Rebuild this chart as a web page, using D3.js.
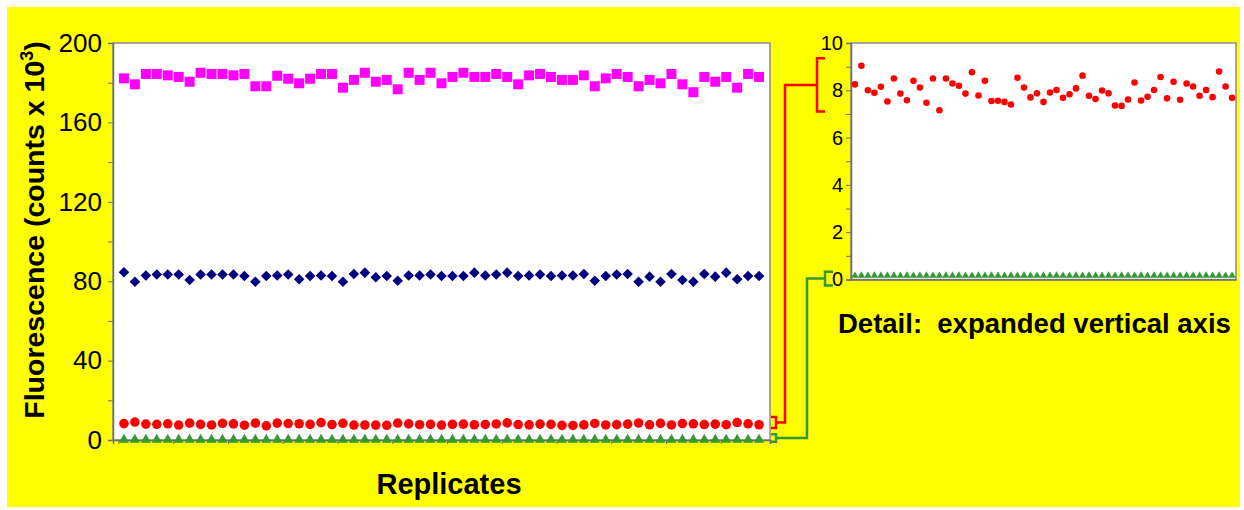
<!DOCTYPE html>
<html>
<head>
<meta charset="utf-8">
<script src="https://cdn.jsdelivr.net/npm/d3@7"></script>
<style>
  body { margin: 0; background: #fff; }
  svg { display: block; font-family: "Liberation Sans", Arial, sans-serif; }
</style>
</head>
<body>
<div id="chart"></div>
<script>
// replicate readings, thousands of counts
const magentaValues = [182.2, 179.2, 184.4, 184.4, 183.7, 182.9, 180.5, 185.0, 184.4, 184.4,
  183.7, 184.4, 178.2, 178.2, 183.5, 182.0, 179.7, 182.0, 184.4, 184.4,
  177.5, 181.4, 185.0, 180.5, 181.4, 176.7, 185.0, 181.4, 185.0, 179.7,
  182.9, 185.0, 182.9, 182.9, 184.4, 182.9, 179.2, 183.7, 184.4, 182.9,
  181.4, 181.4, 183.7, 178.2, 182.2, 184.4, 182.9, 178.2, 181.4, 179.7,
  184.4, 179.2, 175.2, 182.9, 180.5, 182.9, 177.5, 184.4, 182.9];
const navyValues = [84.5, 79.7, 82.9, 83.4, 83.4, 83.4, 80.6, 83.4, 83.4, 83.4,
  83.4, 82.6, 79.7, 82.6, 82.9, 83.4, 81.0, 82.6, 82.9, 82.6,
  79.7, 83.6, 84.3, 82.0, 82.6, 80.2, 82.9, 82.9, 83.4, 82.6,
  82.6, 82.6, 84.3, 82.9, 83.4, 84.3, 82.6, 82.9, 83.4, 82.6,
  82.9, 82.9, 83.6, 80.2, 82.6, 83.4, 83.6, 79.7, 82.3, 79.7,
  83.6, 80.6, 79.7, 83.6, 82.3, 84.3, 81.0, 82.6, 82.6];
const redValues = [8.25, 9.04, 8.00, 7.90, 8.15, 7.53, 8.50, 7.86, 7.58, 8.40,
  8.12, 7.47, 8.50, 7.16, 8.50, 8.29, 8.19, 7.86, 8.76, 7.78,
  8.40, 7.55, 7.56, 7.51, 7.40, 8.53, 8.12, 7.70, 7.87, 7.51,
  7.91, 8.01, 7.68, 7.83, 8.08, 8.62, 7.77, 7.63, 7.99, 7.87,
  7.36, 7.34, 7.61, 8.33, 7.57, 7.73, 8.01, 8.56, 7.66, 8.36,
  7.60, 8.29, 8.16, 7.77, 8.01, 7.71, 8.79, 8.16, 7.68];
const greenValues = [0.16, 0.17, 0.16, 0.17, 0.16, 0.16, 0.17, 0.16, 0.17, 0.16,
  0.16, 0.17, 0.16, 0.16, 0.17, 0.16, 0.17, 0.16, 0.16, 0.17,
  0.16, 0.17, 0.16, 0.16, 0.17, 0.16, 0.17, 0.16, 0.16, 0.17,
  0.16, 0.17, 0.16, 0.16, 0.17, 0.16, 0.17, 0.16, 0.16, 0.17,
  0.16, 0.17, 0.16, 0.16, 0.17, 0.16, 0.17, 0.16, 0.16, 0.17,
  0.16, 0.17, 0.16, 0.16, 0.17, 0.16, 0.17, 0.16, 0.16];
const replicates = d3.range(1, magentaValues.length + 1);

const mainTicks = [0, 40, 80, 120, 160, 200];
const detailTicks = [0, 2, 4, 6, 8, 10];

// bracket ranges (value units) for the red and green call-outs
const redBracketMain = [6.0, 11.6];
const redBracketDetail = [7.1, 9.35];
const greenBracketMain = [-0.9, 2.9];
const greenBracketDetail = [-0.25, 0.33];

const W = 1244, H = 510;
const main = { left: 113, right: 770, top: 43, bottom: 440 };
const detail = { left: 851, right: 1236, top: 43, bottom: 279.5 };

const svg = d3.select("#chart").append("svg")
  .attr("width", W)
  .attr("height", H);

svg.append("rect")
  .attr("x", 7).attr("y", 7)
  .attr("width", 1233).attr("height", 500)
  .attr("fill", "#ffff00");

// scales
const xMain = d3.scaleLinear().domain([0, 60]).range([main.left, main.right]);
const yMain = d3.scaleLinear().domain([0, 200]).range([main.bottom, main.top]);
const xDetail = d3.scaleLinear().domain([0.4, 59.6]).range([detail.left, detail.right]);
const yDetail = d3.scaleLinear().domain([0, 10]).range([detail.bottom, detail.top]);

function plotFrame(box) {
  svg.append("rect")
    .attr("x", box.left).attr("y", box.top)
    .attr("width", box.right - box.left)
    .attr("height", box.bottom - box.top)
    .attr("fill", "#fff")
    .attr("stroke", "#8c8c8c")
    .attr("stroke-width", 1.5);
}
plotFrame(main);
plotFrame(detail);

// main y axis, minor ticks every 20
const yAxisMain = svg.append("g")
  .attr("transform", `translate(${main.left},0)`)
  .call(d3.axisLeft(yMain).tickValues(d3.range(0, 201, 20)).tickSize(5)
    .tickFormat(d => mainTicks.includes(d) ? d : ""));
yAxisMain.select(".domain").attr("stroke", "#6e6e6e").attr("stroke-width", 1.5);
yAxisMain.selectAll(".tick line").attr("stroke", "#6e6e6e");
yAxisMain.selectAll("text")
  .attr("x", -11)
  .style("font-size", "26px")
  .attr("fill", "#000");

// main x axis, category ticks every 5
const xAxisMain = svg.append("g")
  .attr("transform", `translate(0,${main.bottom})`)
  .call(d3.axisBottom(xMain).tickValues(d3.range(0.5, 60, 5)).tickSize(4).tickFormat(""));
xAxisMain.select(".domain").attr("stroke", "#6e6e6e").attr("stroke-width", 1.5);
xAxisMain.selectAll(".tick line").attr("stroke", "#6e6e6e");

// detail y axis, minor ticks every 1
const yAxisDetail = svg.append("g")
  .attr("transform", `translate(${detail.left},0)`)
  .call(d3.axisLeft(yDetail).tickValues(d3.range(0, 11, 1)).tickSize(5)
    .tickFormat(d => detailTicks.includes(d) ? d : ""));
yAxisDetail.select(".domain").attr("stroke", "#6e6e6e").attr("stroke-width", 1.5);
yAxisDetail.selectAll(".tick line").attr("stroke", "#6e6e6e");
yAxisDetail.selectAll("text")
  .attr("x", -8)
  .style("font-size", "20px")
  .attr("fill", "#000");

const xAxisDetail = svg.append("g")
  .attr("transform", `translate(0,${detail.bottom})`)
  .call(d3.axisBottom(xDetail).tickValues([]).tickSize(0));
xAxisDetail.select(".domain").attr("stroke", "#6e6e6e").attr("stroke-width", 1.5);

// markers
function drawSeries(values, x, y, type, size, color, rotate) {
  const sym = d3.symbol().type(type).size(size);
  svg.append("g").selectAll("path")
    .data(values)
    .join("path")
    .attr("d", sym)
    .attr("transform", (d, i) => `translate(${x(replicates[i])},${y(d)})` + (rotate ? " rotate(45)" : ""))
    .attr("fill", color);
}

drawSeries(magentaValues, xMain, yMain, d3.symbolSquare, 100, "#ff00ff");
drawSeries(navyValues, xMain, yMain, d3.symbolSquare, 56, "#000080", true);
drawSeries(redValues, xMain, yMain, d3.symbolCircle, 72, "#ff0000");
drawSeries(greenValues, xMain, yMain, d3.symbolTriangle, 46, "#339933");

drawSeries(redValues, xDetail, yDetail, d3.symbolCircle, 34, "#ff0000");
drawSeries(greenValues, xDetail, yDetail, d3.symbolTriangle, 24, "#339933");

// call-out brackets linking the two panels
function callout(mainRange, detailRange, jogX, bracketX, color) {
  const m0 = yMain(mainRange[0]), m1 = yMain(mainRange[1]);
  const d0 = yDetail(detailRange[0]), d1 = yDetail(detailRange[1]);
  const mb = main.right + 6;
  const mMid = (m0 + m1) / 2, dMid = (d0 + d1) / 2;
  const path = d3.path();
  path.moveTo(main.right + 1, m1); path.lineTo(mb, m1); path.lineTo(mb, m0); path.lineTo(main.right + 1, m0);
  path.moveTo(mb, mMid); path.lineTo(jogX, mMid); path.lineTo(jogX, dMid); path.lineTo(bracketX, dMid);
  path.moveTo(bracketX + 8, d1); path.lineTo(bracketX, d1); path.lineTo(bracketX, d0); path.lineTo(bracketX + 8, d0);
  svg.append("path")
    .attr("d", path.toString())
    .attr("fill", "none")
    .attr("stroke", color)
    .attr("stroke-width", 2.5);
}
callout(redBracketMain, redBracketDetail, 785, 817, "#ff0000");
callout(greenBracketMain, greenBracketDetail, 807, 825, "#339933");

// titles
svg.append("text")
  .attr("transform", "translate(44,230) rotate(-90)")
  .attr("text-anchor", "middle")
  .style("font-size", "28.5px")
  .style("font-weight", "bold")
  .call(t => {
    t.append("tspan").text("Fluorescence (counts x 10");
    t.append("tspan").attr("dy", -11).style("font-size", "18px").text("3");
    t.append("tspan").attr("dy", 11).text(")");
  });

svg.append("text")
  .attr("x", 449).attr("y", 494)
  .attr("text-anchor", "middle")
  .style("font-size", "29px")
  .style("font-weight", "bold")
  .text("Replicates");

svg.append("text")
  .attr("x", 838).attr("y", 333)
  .style("font-size", "27.5px")
  .style("font-weight", "bold")
  .style("white-space", "pre")
  .text("Detail:  expanded vertical axis");
</script>
</body>
</html>
